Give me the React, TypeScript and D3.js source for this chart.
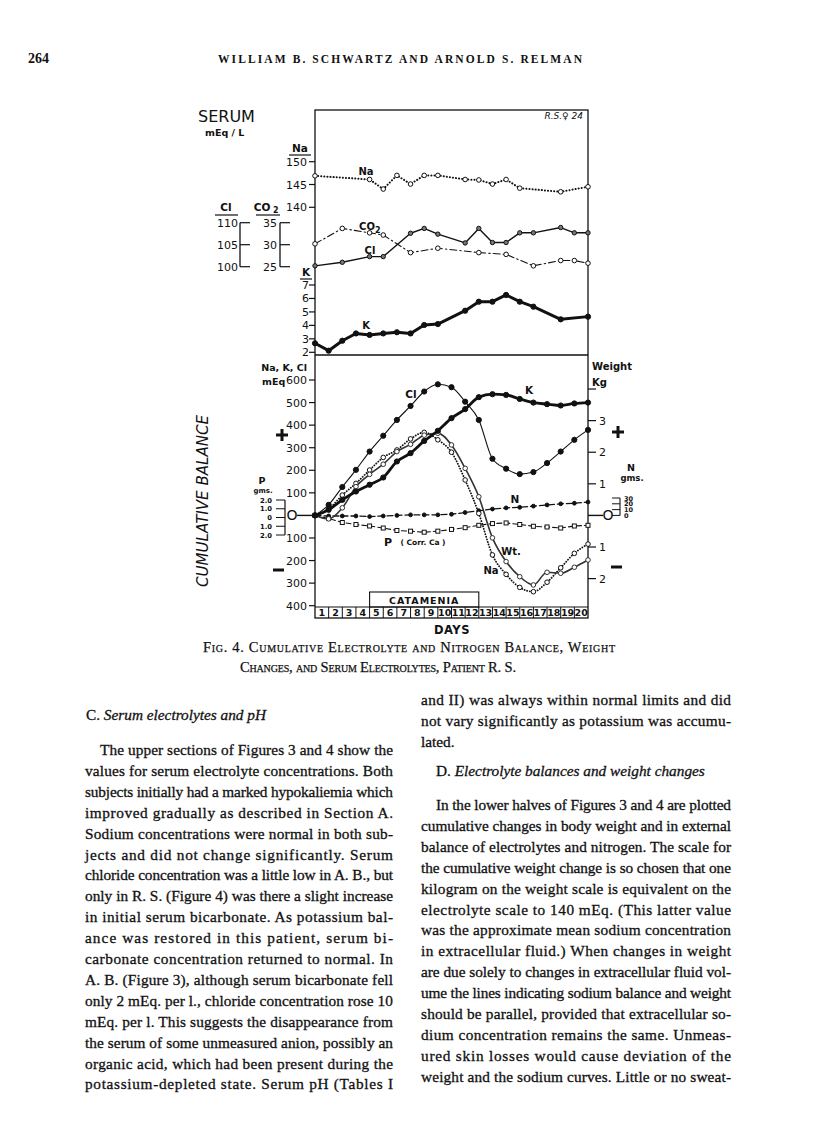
import React, { useEffect, useRef } from "react";
import * as d3 from "d3";

// ---- day axis ----
const dayLabels = ["1","2","3","4","5","6","7","8","9","10","11","12","13","14","15","16","17","18","19","20"];
const catamenia = [4, 12]; // boundaries (end of day 4 .. end of day 12)

// ---- serum (upper panel), index = end of day ----
const naSerumDays = [0, 4, 5, 6, 7, 8, 9, 11, 12, 13, 14, 15, 18, 20];
const naSerum = [146.9, 146.1, 144, 147, 145.1, 147, 147, 146.1, 146, 145.1, 146.1, 144.2, 143.4, 144.5];
const co2SerumDays = [0, 2, 4, 5, 7, 9, 12, 14, 16, 18, 19, 20];
const co2Serum = [30.2, 33.7, 32.7, 32.2, 28.2, 29.2, 28.2, 27.8, 25.2, 26.4, 26.4, 25.8];
const clSerumDays = [0, 2, 4, 5, 7, 8, 9, 11, 12, 13, 14, 15, 16, 18, 19, 20];
const clSerum = [100.2, 101, 102.3, 102.3, 107.6, 108.7, 107.4, 105.4, 108.7, 105.5, 105.5, 107.7, 107.7, 108.9, 107.7, 107.7];
const kSerumDays = [0, 1, 2, 3, 4, 5, 6, 7, 8, 9, 11, 12, 13, 14, 15, 16, 18, 20];
const kSerum = [2.67, 2.12, 2.86, 3.4, 3.29, 3.4, 3.49, 3.4, 4.03, 4.1, 5.09, 5.76, 5.76, 6.26, 5.76, 5.39, 4.45, 4.65];

// ---- cumulative balance (lower panel), 21 points ----
const clBal = [0, 47, 126, 202, 283, 353, 423, 485, 549, 581, 568, 504, 423, 251, 207, 183, 192, 232, 283, 335, 379];
const kBal = [0, 25, 69, 106, 136, 168, 239, 276, 330, 375, 431, 471, 524, 537, 534, 516, 500, 493, 487, 496, 500];
const naBal = [0, 28, 90, 142, 201, 257, 290, 339, 368, 335, 280, 157, 9, -175, -261, -319, -338, -296, -232, -168, -127];
const wtKg = [0, -0.11, 0.24, 0.91, 1.3, 1.62, 2.02, 2.25, 2.54, 2.6, 2.23, 1.49, 0.59, -0.71, -1.46, -1.94, -2.2, -1.8, -1.83, -1.64, -1.41];
const nGms = [0, -1, -1, -1, -2, -1, 0, 1, 1, 1, 2, 5, 8, 11, 13, 14, 16, 18, 20, 21, 23];
const pGms = [0, -0.34, -0.81, -1.04, -1.21, -1.44, -1.72, -1.8, -1.92, -1.8, -1.6, -1.4, -1.13, -0.93, -0.86, -1.04, -1.24, -1.32, -1.44, -1.21, -1.13];

// ---- axis ticks ----
const naTicks = [150, 145, 140];
const co2Ticks = [35, 30, 25];
const clTicks = [110, 105, 100];
const kTicks = [7, 6, 5, 4, 3, 2];
const balTicks = [600, 500, 400, 300, 200, 100, 0, -100, -200, -300, -400];
const wtTicks = [4, 3, 2, 1, 0, -1, -2];
const pTicks = [2, 1, 0, -1, -2];
const nTicks = [30, 20, 10, 0];

// ---- page text ----
const leftLines = [
  "The upper sections of Figures 3 and 4 show the",
  "values for serum electrolyte concentrations. Both",
  "subjects initially had a marked hypokaliemia which",
  "improved gradually as described in Section A.",
  "Sodium concentrations were normal in both sub-",
  "jects and did not change significantly. Serum",
  "chloride concentration was a little low in A. B., but",
  "only in R. S. (Figure 4) was there a slight increase",
  "in initial serum bicarbonate. As potassium bal-",
  "ance was restored in this patient, serum bi-",
  "carbonate concentration returned to normal. In",
  "A. B. (Figure 3), although serum bicarbonate fell",
  "only 2 mEq. per l., chloride concentration rose 10",
  "mEq. per l. This suggests the disappearance from",
  "the serum of some unmeasured anion, possibly an",
  "organic acid, which had been present during the",
  "potassium-depleted state. Serum pH (Tables I",
];
const rightTop = [
  "and II) was always within normal limits and did",
  "not vary significantly as potassium was accumu-",
  "lated.",
];
const rightLines = [
  "In the lower halves of Figures 3 and 4 are plotted",
  "cumulative changes in body weight and in external",
  "balance of electrolytes and nitrogen. The scale for",
  "the cumulative weight change is so chosen that one",
  "kilogram on the weight scale is equivalent on the",
  "electrolyte scale to 140 mEq. (This latter value",
  "was the approximate mean sodium concentration",
  "in extracellular fluid.) When changes in weight",
  "are due solely to changes in extracellular fluid vol-",
  "ume the lines indicating sodium balance and weight",
  "should be parallel, provided that extracellular so-",
  "dium concentration remains the same. Unmeas-",
  "ured skin losses would cause deviation of the",
  "weight and the sodium curves. Little or no sweat-",
];

const SANS = "'DejaVu Sans', 'Liberation Sans', sans-serif";
const SERIF = "'Liberation Serif', 'DejaVu Serif', serif";

function drawAll(node: SVGSVGElement) {
  const svg = d3.select(node);
  svg.selectAll("*").remove();
  svg.append("rect").attr("width", 816).attr("height", 1121).attr("fill", "#fff");

  const boxL = 315, boxR = 588, boxT = 110, divY = 355, dayT = 607, dayB = 618;
  const x = d3.scaleLinear().domain([0, 20]).range([boxL, boxR]);
  const yNa = d3.scaleLinear().domain([140, 150]).range([207.3, 161.7]);
  const yCO2 = d3.scaleLinear().domain([25, 35]).range([266.7, 222.7]);
  const yCl = d3.scaleLinear().domain([100, 110]).range([266.7, 222.7]);
  const yK = d3.scaleLinear().domain([2, 7]).range([352.3, 285]);
  const yBal = d3.scaleLinear().domain([-400, 600]).range([605.7, 380]);
  const yWt = (kg: number) => yBal(kg * 140);
  const yN = d3.scaleLinear().domain([0, 30]).range([yBal(0), 498]);
  const yP = d3.scaleLinear().domain([-2, 2]).range([535, 500]);

  const g = svg.append("g");
  const txt = (s: string, tx: number, ty: number, size: number, anchor = "start", weight = "normal", fam = SANS) =>
    g.append("text").attr("x", tx).attr("y", ty).attr("font-family", fam).attr("font-size", size)
      .attr("font-weight", weight).attr("text-anchor", anchor).attr("fill", "#111").text(s);
  const ln = (x1: number, y1: number, x2: number, y2: number, w = 1.2) =>
    g.append("line").attr("x1", x1).attr("y1", y1).attr("x2", x2).attr("y2", y2)
      .attr("stroke", "#111").attr("stroke-width", w);

  // ---- frame ----
  g.append("rect").attr("x", boxL).attr("y", boxT).attr("width", boxR - boxL).attr("height", dayB - boxT)
    .attr("fill", "none").attr("stroke", "#111").attr("stroke-width", 1.3);
  ln(boxL, divY, boxR, divY, 1.3);
  ln(boxL, dayT, boxR, dayT, 1.1);
  dayLabels.forEach((d, i) => {
    if (i > 0) ln(x(i), dayT, x(i), dayB, 1);
    txt(d, (x(i) + x(i + 1)) / 2, dayB - 2, 9.5, "middle", "bold");
  });
  g.append("rect").attr("x", x(catamenia[0])).attr("y", 592).attr("width", x(catamenia[1]) - x(catamenia[0]))
    .attr("height", dayT - 592).attr("fill", "none").attr("stroke", "#111").attr("stroke-width", 1.1);
  txt("CATAMENIA", (x(catamenia[0]) + x(catamenia[1])) / 2, 603.5, 9.5, "middle", "bold").attr("letter-spacing", 1);
  txt("DAYS", 452, 634, 11.5, "middle", "bold").attr("letter-spacing", 0.5);
  txt("R.S.♀ 24", 583, 119, 9, "end").attr("font-style", "italic");

  // ---- upper left axes ----
  txt("SERUM", 198, 122, 16, "start");
  txt("mEq / L", 205, 136, 9.5, "start", "bold");
  txt("Na", 300, 152, 10.5, "middle", "bold");
  ln(289, 155, 311, 155, 1.2);
  naTicks.forEach(t => { ln(309, yNa(t), boxL, yNa(t)); txt(String(t), 307, yNa(t) + 4, 11, "end"); });
  txt("Cl", 226, 211, 10.5, "middle", "bold");
  ln(215, 215, 238, 215, 1.2);
  txt("CO", 262, 211, 10.5, "middle", "bold");
  txt("2", 273, 213, 8, "start", "bold");
  ln(256, 215, 280, 215, 1.2);
  ln(240, yCl(110), 240, yCl(100), 1.3);
  clTicks.forEach(t => { ln(240, yCl(t), 250, yCl(t)); txt(String(t), 238, yCl(t) + 4, 11, "end"); });
  ln(280, yCO2(35), 280, yCO2(25), 1.3);
  co2Ticks.forEach(t => { ln(280, yCO2(t), 290, yCO2(t)); txt(String(t), 277, yCO2(t) + 4, 11, "end"); });
  txt("K", 306, 276, 10.5, "middle", "bold");
  ln(300, 279, 312, 279, 1.2);
  kTicks.forEach(t => { ln(309, yK(t), boxL, yK(t)); txt(String(t), 309, yK(t) + 4, 11, "end"); });

  // ---- lower left axes ----
  txt("Na, K, Cl", 307, 371, 9.5, "end", "bold");
  txt("mEq", 262, 385, 9.5, "start", "bold");
  balTicks.forEach(t => {
    if (t === 0) return;
    ln(309, yBal(t), boxL, yBal(t));
    txt(String(Math.abs(t)), 307, yBal(t) + 4, 11, "end");
  });
  ln(297, yBal(0), boxL, yBal(0), 1.4);
  txt("O", 292, yBal(0) + 5, 14, "middle");
  g.append("text").attr("transform", "translate(208,501) rotate(-90)").attr("text-anchor", "middle")
    .attr("font-family", SANS).attr("font-size", 15.5).attr("font-style", "italic").attr("fill", "#111")
    .attr("textLength", 172).attr("lengthAdjust", "spacingAndGlyphs").text("CUMULATIVE BALANCE");
  // plus / minus
  const plus = (cx: number, cy: number) => { ln(cx - 6, cy, cx + 6, cy, 3); ln(cx, cy - 6, cx, cy + 6, 3); };
  plus(282, 435); plus(618, 432);
  ln(273, 570, 284, 570, 3); ln(611, 567, 622, 567, 3);
  // P scale
  txt("P", 262, 484, 9.5, "middle", "bold");
  txt("gms.", 263, 493, 7, "middle", "bold");
  ln(285, yP(2), 285, yP(-2), 1.2);
  pTicks.forEach(t => {
    ln(276, yP(t), 285, yP(t), 1);
    txt(t === 0 ? "0" : Math.abs(t).toFixed(1), 272, yP(t) + 2.6, 6.8, "end", "bold");
  });

  // ---- right axes ----
  txt("Weight", 592, 370, 10, "start", "bold");
  txt("Kg", 592, 386, 10, "start", "bold");
  wtTicks.forEach(t => {
    if (t === 0) return;
    ln(boxR, yWt(t), boxR + 8, yWt(t));
    if (t !== 4) txt(String(Math.abs(t)), 599, yWt(t) + 4, 11, "start");
  });
  ln(boxR, yBal(0), 603, yBal(0), 1.4);
  txt("O", 608, yBal(0) + 5, 14, "middle");
  txt("N", 631, 471, 9.5, "middle", "bold");
  txt("gms.", 632, 481, 8.5, "middle", "bold");
  ln(620, yN(30), 620, yN(0), 1.1);
  nTicks.forEach(t => {
    ln(612, yN(t), 620, yN(t), 1);
    txt(String(t), 624, yN(t) + 2.5, 6.5, "start", "bold");
  });

  // ---- series helper ----
  type Opt = { w: number; dash?: string; color?: string; curve?: d3.CurveFactory; mark: "open" | "filled" | "gray" | "square"; r: number };
  const series = (pts: [number, number][], o: Opt) => {
    const line = d3.line<[number, number]>().x(d => d[0]).y(d => d[1]).curve(o.curve ?? d3.curveLinear);
    const col = o.color ?? "#111";
    g.append("path").attr("d", line(pts) as string).attr("fill", "none").attr("stroke", col)
      .attr("stroke-width", o.w).attr("stroke-dasharray", o.dash ?? null).attr("stroke-linecap", o.dash ? "round" : "butt")
      .attr("stroke-linejoin", "round");
    pts.forEach(([px, py]) => {
      if (o.mark === "square") {
        g.append("rect").attr("x", px - 2).attr("y", py - 2).attr("width", 4).attr("height", 4)
          .attr("fill", "#fff").attr("stroke", col).attr("stroke-width", 1);
      } else {
        const fill = o.mark === "open" ? "#fff" : o.mark === "gray" ? "#777" : col;
        g.append("circle").attr("cx", px).attr("cy", py).attr("r", o.r).attr("fill", fill)
          .attr("stroke", col).attr("stroke-width", 1);
      }
    });
  };

  // ---- upper serum lines ----
  series(naSerumDays.map((d, i) => [x(d), yNa(naSerum[i])] as [number, number]), { w: 2, dash: "0.1 3", mark: "open", r: 2.3 });
  series(co2SerumDays.map((d, i) => [x(d), yCO2(co2Serum[i])] as [number, number]), { w: 1.1, dash: "7 3 1.5 3", mark: "open", r: 2.3 });
  series(clSerumDays.map((d, i) => [x(d), yCl(clSerum[i])] as [number, number]), { w: 1.4, mark: "gray", r: 2.2 });
  series(kSerumDays.map((d, i) => [x(d), yK(kSerum[i])] as [number, number]), { w: 3, mark: "filled", r: 2.6 });
  txt("Na", 366, 175, 10, "middle", "bold");
  txt("CO", 367, 230, 10, "middle", "bold");
  txt("2", 375, 233, 8, "start", "bold");
  txt("Cl", 370, 254, 10, "middle", "bold");
  txt("K", 366, 329, 10, "middle", "bold");

  // ---- lower balance lines ----
  const sm = d3.curveMonotoneX;
  series(pGms.map((v, i) => [x(i), yP(v) + (yBal(0) - yP(0))] as [number, number]), { w: 1.1, dash: "5 3", mark: "square", r: 2 });
  series(nGms.map((v, i) => [x(i), yN(v)] as [number, number]), { w: 1.3, dash: "6 3", mark: "filled", r: 1.9 });
  series(naBal.map((v, i) => [x(i), yBal(v)] as [number, number]), { w: 1.8, dash: "0.1 2.6", curve: sm, mark: "open", r: 2.3 });
  series(wtKg.map((v, i) => [x(i), yWt(v)] as [number, number]), { w: 1.6, color: "#333", curve: sm, mark: "open", r: 2.3 });
  series(clBal.map((v, i) => [x(i), yBal(v)] as [number, number]), { w: 1.1, curve: sm, mark: "filled", r: 2.6 });
  series(kBal.map((v, i) => [x(i), yBal(v)] as [number, number]), { w: 2.8, curve: sm, mark: "filled", r: 2.6 });
  txt("Cl", 411, 398, 10.5, "middle", "bold");
  txt("K", 529, 394, 10.5, "middle", "bold");
  txt("N", 515, 503, 10.5, "middle", "bold");
  txt("P", 388, 546, 11, "middle", "bold");
  txt("( Corr. Ca )", 423, 545, 7.5, "middle", "bold");
  txt("Wt.", 511, 555, 10, "middle", "bold");
  txt("Na", 491, 574, 10, "middle", "bold");

  // ---- page header & caption ----
  txt("264", 28, 63, 14, "start", "bold", SERIF);
  txt("WILLIAM B. SCHWARTZ AND ARNOLD S. RELMAN", 218, 63, 11.5, "start", "bold", SERIF)
    .attr("textLength", 364).attr("lengthAdjust", "spacing");
  txt("Fig. 4. Cumulative Electrolyte and Nitrogen Balance, Weight", 203, 652, 14.5, "start", "normal", SERIF)
    .style("font-variant", "small-caps").attr("stroke", "#111").attr("stroke-width", 0.25)
    .attr("textLength", 412).attr("lengthAdjust", "spacing");
  txt("Changes, and Serum Electrolytes, Patient R. S.", 240, 672, 14.5, "start", "normal", SERIF)
    .style("font-variant", "small-caps").attr("stroke", "#111").attr("stroke-width", 0.25)
    .attr("textLength", 276).attr("lengthAdjust", "spacing");

  // ---- body text ----
  const para = (lines: string[], x0: number, x1: number, y0: number, step: number, indent: number, lastJust: boolean) => {
    lines.forEach((s, i) => {
      const lx = i === 0 ? x0 + indent : x0;
      const t = txt(s, lx, y0 + i * step, 15.3, "start", "normal", SERIF).attr("stroke", "#111").attr("stroke-width", 0.3);
      if (i < lines.length - 1 || lastJust) t.attr("textLength", x1 - lx).attr("lengthAdjust", "spacing");
    });
  };
  const head = (a: string, b: string, hx: number, hy: number) => {
    const t = g.append("text").attr("x", hx).attr("y", hy).attr("font-family", SERIF).attr("font-size", 15.3)
      .attr("fill", "#111").attr("stroke", "#111").attr("stroke-width", 0.3);
    t.append("tspan").text(a);
    t.append("tspan").attr("font-style", "italic").text(b);
  };
  head("C. ", "Serum electrolytes and pH", 86, 720);
  para(leftLines, 85, 393, 755, 20.9, 15, true);
  para(rightTop, 421, 731, 705, 20.9, 0, false);
  head("D. ", "Electrolyte balances and weight changes", 436, 776);
  para(rightLines, 421, 731, 810, 20.9, 15, true);
}

export default function App() {
  const ref = useRef<SVGSVGElement>(null);
  useEffect(() => {
    if (ref.current) drawAll(ref.current);
  }, []);
  return (
    <svg ref={ref} width={816} height={1121} style={{ position: "absolute", left: 0, top: 0 }} />
  );
}
